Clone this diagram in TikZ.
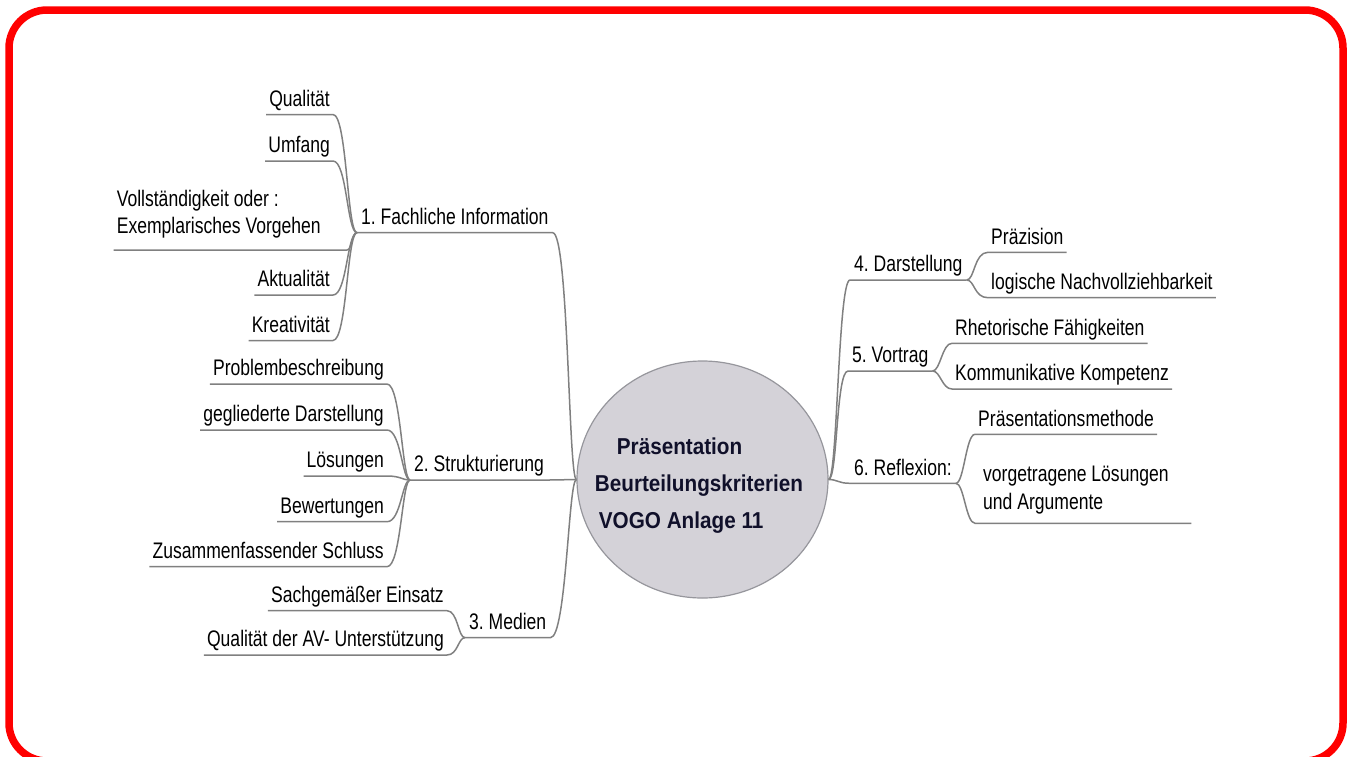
\documentclass[tikz,border=0pt]{standalone}
\usepackage{fontspec}
\setmainfont{Liberation Sans}[FakeStretch=0.78]
\newfontfamily\rootfont{Liberation Sans}[FakeStretch=0.9]
\usepackage{tikz}
\usetikzlibrary{shapes.geometric}
\definecolor{linegray}{RGB}{128,128,128}
\definecolor{rootfill}{RGB}{212,210,216}
\definecolor{rootdraw}{RGB}{150,150,156}
\definecolor{titleblue}{RGB}{16,16,42}
\tikzstyle{root} = [ellipse, 
minimum width=251pt, 
minimum height=237pt, 
inner sep=0pt, 
draw=rootdraw, line width=1.2pt, fill=rootfill]
\tikzstyle{rootlabel} = [align=left, 
text=titleblue, 
font=\rootfont\fontsize{23}{37}\selectfont\bfseries]
\tikzstyle{subtopic} = [inner xsep=3pt, 
inner ysep=0pt, 
text height=17pt, 
text depth=8pt, 
font=\fontsize{22.5}{27}\selectfont]
\tikzstyle{topic} = [subtopic, inner xsep=4pt]
\tikzstyle{connector} = [draw=linegray, line width=1.5pt]
\tikzstyle{redframe} = [draw=red, line width=7.5pt, rounded corners=38pt]
\frenchspacing

\begin{document}
\begin{tikzpicture}[x=1pt, y=-1pt]
    \useasboundingbox (0,0) rectangle (1350,756);
    \draw [redframe] (9,10) rectangle (1343,761);

    \node (root) [root] at (702.5,479.5) {};
    \node (rootlabel) [rootlabel] at (699,486) {
      \hspace*{22pt}Präsentation\\
      Beurteilungskriterien\\
      \hspace*{4pt}VOGO Anlage 11
    };

    % left side
    \node (fach) [topic, anchor=south west] at (357,232.7) {1. Fachliche Information};
    \node (strukt) [topic, anchor=south west] at (410,480) {2. Strukturierung};
    \node (medien) [topic, anchor=south west] at (465,637.7) {3. Medien};

    \node (qual) [subtopic, anchor=south east] at (333,114.5) {Qualität};
    \node (umfang) [subtopic, anchor=south east] at (333,161) {Umfang};
    \node (vollst) [subtopic, anchor=south east, text height=45pt, text depth=16pt] at (347,250) {
      \parbox[b]{227pt}{\raggedright Vollständigkeit oder :\\Exemplarisches Vorgehen}
    };
    \node (aktual) [subtopic, anchor=south east] at (333,295) {Aktualität};
    \node (kreativ) [subtopic, anchor=south east] at (333,340.5) {Kreativität};

    \node (problem) [subtopic, anchor=south east] at (387,384) {Problembeschreibung};
    \node (gegl) [subtopic, anchor=south east] at (387,430) {gegliederte Darstellung};
    \node (loes) [subtopic, anchor=south east] at (387,476) {Lösungen};
    \node (bewert) [subtopic, anchor=south east] at (387,521.7) {Bewertungen};
    \node (zusam) [subtopic, anchor=south east] at (387,566.7) {Zusammenfassender Schluss};

    \node (sach) [subtopic, anchor=south east] at (447,610.7) {Sachgemäßer Einsatz};
    \node (qualav) [subtopic, anchor=south east] at (447,655) {Qualität der AV- Unterstützung};

    % right side
    \node (darst) [topic, anchor=south west] at (850,280) {4. Darstellung};
    \node (vortrag) [topic, anchor=south west] at (848,371) {5. Vortrag};
    \node (reflex) [topic, anchor=south west] at (850,483.3) {6. Reflexion:};

    \node (praez) [subtopic, anchor=south west] at (988,252.3) {Präzision};
    \node (logisch) [subtopic, anchor=south west] at (988,297.7) {logische Nachvollziehbarkeit};
    \node (rhet) [subtopic, anchor=south west] at (952,343.3) {Rhetorische Fähigkeiten};
    \node (komm) [subtopic, anchor=south west] at (952,389) {Kommunikative Kompetenz};
    \node (praesm) [subtopic, anchor=south west] at (975,434.3) {Präsentationsmethode};
    \node (vorgetr) [subtopic, anchor=south west, inner xsep=8pt, text height=48pt, text depth=13.3pt,
      font=\fontsize{22.5}{28.3}\selectfont] at (975,523.3) {
      \parbox[b]{200pt}{\raggedright vorgetragene Lösungen\\und Argumente}
    };

    \draw [connector] (root.west) .. controls +(-8,0) and +(16,0) .. (fach.south east) -- (fach.south west);
    \draw [connector] (root.west) .. controls +(-8,0) and +(12,0) .. (strukt.south east) -- (strukt.south west);
    \draw [connector] (root.west) .. controls +(-8,0) and +(16,0) .. (medien.south east) -- (medien.south west);
    \draw [connector] (root.east) .. controls +(9,0) and +(-12,0) .. (darst.south west) -- (darst.south east);
    \draw [connector] (root.east) .. controls +(9,0) and +(-12,0) .. (vortrag.south west) -- (vortrag.south east);
    \draw [connector] (root.east) .. controls +(9,0) and +(-12,0) .. (reflex.south west) -- (reflex.south east);

    \draw [connector] (fach.south west) .. controls +(-10,0) and +(14,0) .. (qual.south east) -- (qual.south west);
    \draw [connector] (fach.south west) .. controls +(-10,0) and +(14,0) .. (umfang.south east) -- (umfang.south west);
    \draw [connector] (fach.south west) .. controls +(-5,0) and +(5,0) .. (vollst.south east) -- (vollst.south west);
    \draw [connector] (fach.south west) .. controls +(-10,0) and +(14,0) .. (aktual.south east) -- (aktual.south west);
    \draw [connector] (fach.south west) .. controls +(-10,0) and +(14,0) .. (kreativ.south east) -- (kreativ.south west);

    \draw [connector] (strukt.south west) .. controls +(-8,0) and +(14,0) .. (problem.south east) -- (problem.south west);
    \draw [connector] (strukt.south west) .. controls +(-8,0) and +(14,0) .. (gegl.south east) -- (gegl.south west);
    \draw [connector] (strukt.south west) .. controls +(-8,0) and +(14,0) .. (loes.south east) -- (loes.south west);
    \draw [connector] (strukt.south west) .. controls +(-8,0) and +(14,0) .. (bewert.south east) -- (bewert.south west);
    \draw [connector] (strukt.south west) .. controls +(-8,0) and +(14,0) .. (zusam.south east) -- (zusam.south west);

    \draw [connector] (medien.south west) .. controls +(-7,0) and +(11,0) .. (sach.south east) -- (sach.south west);
    \draw [connector] (medien.south west) .. controls +(-7,0) and +(11,0) .. (qualav.south east) -- (qualav.south west);

    \draw [connector] (darst.south east) .. controls +(8,0) and +(-14,0) .. (praez.south west) -- (praez.south east);
    \draw [connector] (darst.south east) .. controls +(8,0) and +(-14,0) .. (logisch.south west) -- (logisch.south east);
    \draw [connector] (vortrag.south east) .. controls +(8,0) and +(-10,0) .. (rhet.south west) -- (rhet.south east);
    \draw [connector] (vortrag.south east) .. controls +(8,0) and +(-10,0) .. (komm.south west) -- (komm.south east);
    \draw [connector] (reflex.south east) .. controls +(8,0) and +(-9,0) .. (praesm.south west) -- (praesm.south east);
    \draw [connector] (reflex.south east) .. controls +(8,0) and +(-9,0) .. (vorgetr.south west) -- (vorgetr.south east);
\end{tikzpicture}
\end{document}
